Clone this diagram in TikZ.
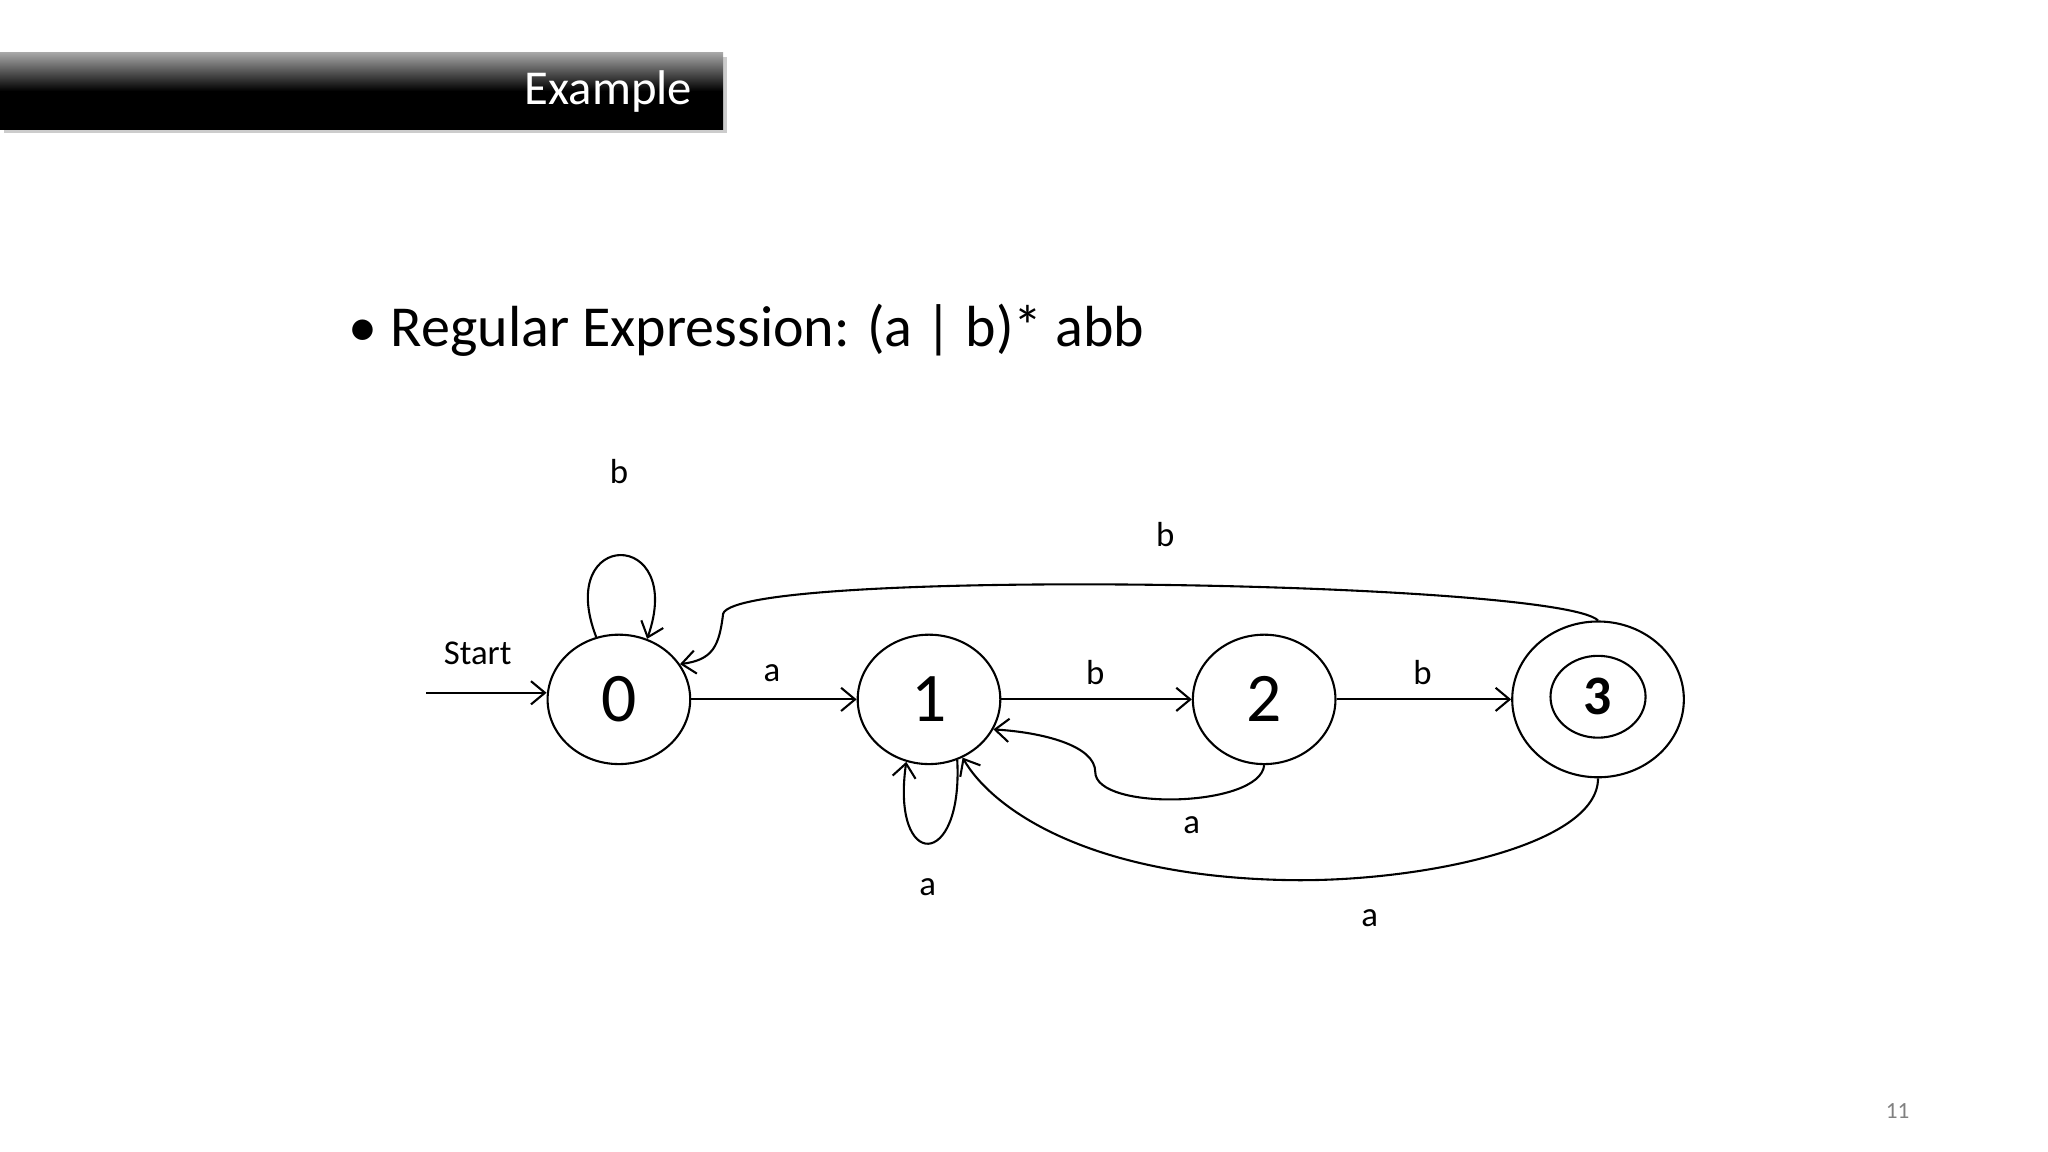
\documentclass[tikz,border=0pt]{standalone}
\usepackage{fontspec}
\setmainfont{Carlito}
\usetikzlibrary{arrows.meta,shapes.geometric}
\begin{document}
\begin{tikzpicture}[x=0.01cm,y=-0.01cm,
  st/.style={draw,ellipse,inner sep=0pt,minimum width=1.08cm,minimum height=0.98cm,line width=0.45pt,font=\fontsize{15}{18}\selectfont},
  ed/.style={line width=0.45pt,-{Straight Barb[length=3pt,width=5pt]}},
  lb/.style={font=\fontsize{7.5}{9}\selectfont}]
\useasboundingbox (0,0) rectangle (1552,873);
\fill[gray!40] (3,43) rectangle (551,101);
\shade[top color=gray!70,bottom color=black,middle color=black] (0,40) rectangle (548,98);
\node[anchor=east,text=white,font=\fontsize{10.5}{12}\selectfont] (title) at (537,69) {Example};
\node[anchor=west,font=\fontsize{12.5}{15}\selectfont] (rx) at (252,250) {•\ Regular Expression: (a | b)* abb};
\node[text=gray,font=\fontsize{5}{6}\selectfont] (pg) at (1438,842) {11};
% states
\node[st] (n0) at (469,530) {0};
\node[st] (n1) at (704,530) {1};
\node[st] (n2) at (958,530) {2};
\node[st,minimum width=1.30cm,minimum height=1.18cm] (n3) at (1211,530) {};
\node[st,minimum width=0.72cm,minimum height=0.62cm,font=\fontsize{12}{14}\selectfont\bfseries] (n3i) at (1211,528) {3};
% start
\coordinate (s) at (323,525);
\draw[ed] (s) -- (n0.west |- s);
\node[lb] (lstart) at (362,495) {Start};
% straight edges
\draw[ed] (n0.east) -- (n1.west);
\node[lb] (la) at (585,510) {a};
\draw[ed] (n1.east) -- (n2.west);
\node[lb] (lb1) at (830,510) {b};
\draw[ed] (n2.east) -- (n3.west);
\node[lb] (lb2) at (1078,510) {b};
% loop on 0
\draw[ed] (n0.110) .. controls (420,400) and (520,400) .. (n0.65);
\node[lb] (lb0) at (469,357) {b};
% 3 -> 0
\draw[ed] (n3.north) .. controls (1180,440) and (560,430) .. (548,465) .. controls (545,490) and (540,500) .. (n0.30);
\node[lb] (lb3) at (883,405) {b};
% 2 -> 1
\draw[ed] (n2.south) .. controls (955,612) and (830,615) .. (830,585) .. controls (830,565) and (790,555) .. (n1.-25);
\node[lb] (la2) at (903,625) {a};
% loop on 1
\draw[ed] (n1.-65) .. controls (730,660) and (675,660) .. (n1.-110);
\node[lb] (la1) at (703,672) {a};
% 3 -> 1
\draw[ed] (n3.south) .. controls (1211,640) and (1080,668) .. (980,667) .. controls (820,665) and (750,610) .. (n1.-60);
\node[lb] (la3) at (1038,696) {a};
\end{tikzpicture}
\end{document}
